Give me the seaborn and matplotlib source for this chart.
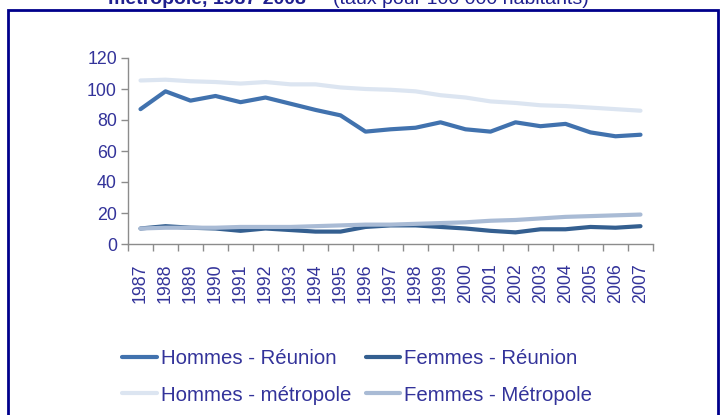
import pandas as pd
import matplotlib.pyplot as plt
import seaborn as sns
from matplotlib.patches import Rectangle

# --- DATA ---
years = [str(y) for y in range(1987, 2008)]
hommes_reunion = [87, 98.5, 92.5, 95.5, 91.5, 94.5, 90.5, 86.5, 83, 72.5, 74,
                  75, 78.5, 74, 72.5, 78.5, 76, 77.5, 72, 69.5, 70.5]
femmes_reunion = [10, 11.5, 10.5, 10, 8.5, 10, 9, 8, 8, 11, 12,
                  12, 11, 10, 8.5, 7.5, 9.5, 9.5, 11, 10.5, 11.5]
hommes_metropole = [105.5, 106, 105, 104.5, 103.5, 104.5, 103, 103, 101, 100, 99.5,
                    98.5, 96, 94.5, 92, 91, 89.5, 89, 88, 87, 86]
femmes_metropole = [10, 10.5, 10.5, 10.5, 11, 11, 11, 11.5, 12, 12.5, 12.5,
                    13, 13.5, 14, 15, 15.5, 16.5, 17.5, 18, 18.5, 19]

series_names = ['Hommes - Réunion', 'Femmes - Réunion', 'Hommes - métropole', 'Femmes - Métropole']
series_values = [hommes_reunion, femmes_reunion, hommes_metropole, femmes_metropole]
legend_order = ['Hommes - Réunion', 'Hommes - métropole', 'Femmes - Réunion', 'Femmes - Métropole']

COLORS = {
    'Hommes - Réunion': '#4172ae',
    'Femmes - Réunion': '#345f90',
    'Hommes - métropole': '#dce5f1',
    'Femmes - Métropole': '#a9bbd5',
}
TEXT = '#33339a'

# --- THEME ---
sns.set_style('white')
plt.rcParams['font.family'] = ['Liberation Sans', 'DejaVu Sans']

rows = []
for name, vals in zip(series_names, series_values):
    for x, (yr, v) in enumerate(zip(years, vals)):
        rows.append({'pos': x, 'year': yr, 'taux': v, 'serie': name})
df = pd.DataFrame(rows)

fig = plt.figure(figsize=(7.23, 4.15), dpi=100)
ax = fig.add_axes([128 / 723, 171 / 415, 525 / 723, 186 / 415])

sns.lineplot(data=df, x='pos', y='taux', hue='serie', hue_order=series_names,
             palette=COLORS, linewidth=3, ax=ax, legend=False)

ax.set_xlim(-0.5, len(years) - 0.5)
ax.set_ylim(0, 120)
ax.set_yticks(range(0, 121, 20))
# ticks between categories, labels centred on them
ax.set_xticks([i - 0.5 for i in range(len(years) + 1)])
ax.set_xticklabels([])
ax.set_xticks(range(len(years)), minor=True)
ax.set_xticklabels(years, minor=True, rotation=90)
ax.tick_params(axis='x', which='minor', length=0, pad=14, labelsize=12.8, labelcolor=TEXT)
ax.tick_params(axis='x', which='major', length=5, width=1, color='#8c8c8c', direction='out', bottom=True)
ax.tick_params(axis='y', length=5, width=1, color='#8c8c8c', direction='out', left=True,
               labelsize=12.8, labelcolor=TEXT, pad=3)
ax.set_xlabel('')
ax.set_ylabel('')
for s in ['top', 'right']:
    ax.spines[s].set_visible(False)
for s in ['left', 'bottom']:
    ax.spines[s].set_color('#8c8c8c')
    ax.spines[s].set_linewidth(1)

# legend
handles = [plt.Line2D([], [], color=COLORS[n], linewidth=3) for n in legend_order]
fig.legend(handles, legend_order, ncol=2, frameon=False, fontsize=14.7,
           loc='upper left', bbox_to_anchor=(114 / 723, 1 - 341 / 415),
           handlelength=1.7, handletextpad=0.2, columnspacing=0.7,
           labelspacing=0.85, labelcolor=TEXT, borderaxespad=0)

# frame
fig.patches.append(Rectangle((8 / 723, -0.05), 710 / 723, 1.05 - 10 / 415,
                             transform=fig.transFigure, fill=False,
                             edgecolor='#00008b', linewidth=2))

# title, cut at the top as in the source
fig.text(108 / 723, 1 - 4 / 415, 'métropole, 1987-2008', fontsize=14, fontweight='bold',
         color='#1f1f8f', va='baseline', ha='left')
fig.text(333 / 723, 1 - 4 / 415, '(taux pour 100 000 habitants)', fontsize=14,
         color='#1f1f8f', va='baseline', ha='left')

fig.savefig('out.png', dpi=100)
